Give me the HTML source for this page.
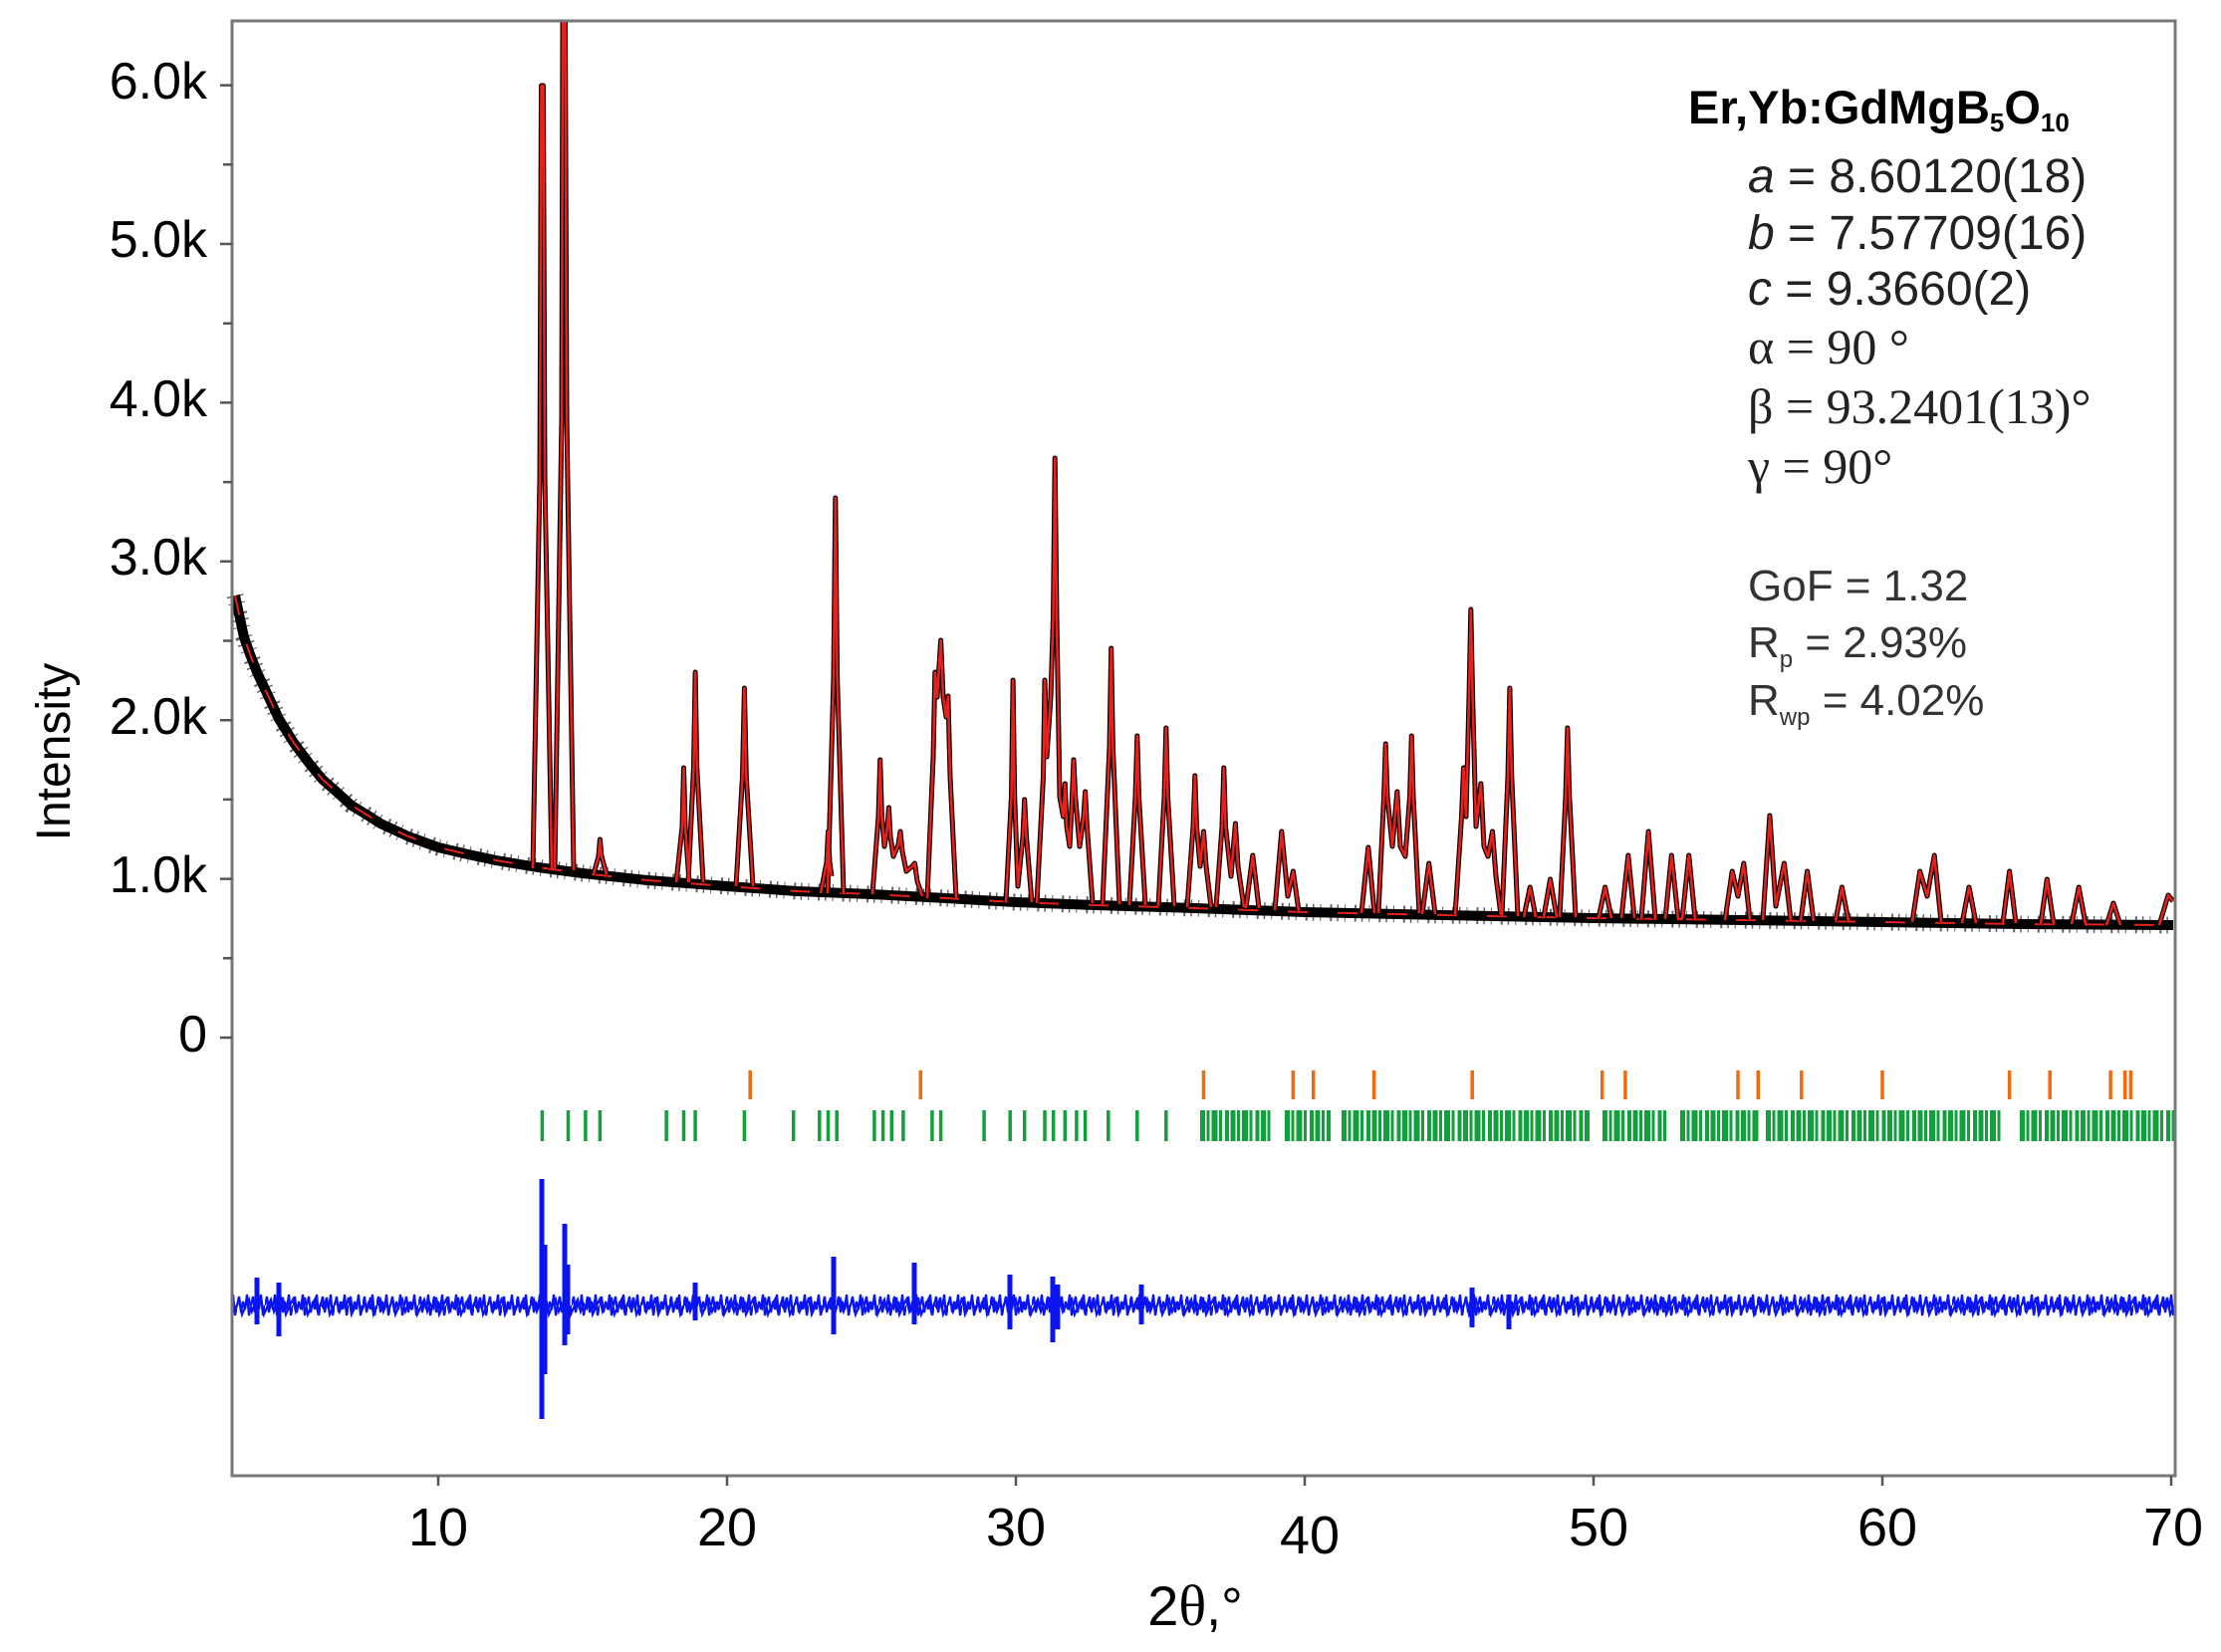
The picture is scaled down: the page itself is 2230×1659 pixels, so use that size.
<!DOCTYPE html>
<html><head><meta charset="utf-8"><style>
html,body{margin:0;padding:0;background:#fff;}
svg{display:block;}
</style></head><body>
<svg xmlns="http://www.w3.org/2000/svg" width="2230" height="1659" viewBox="0 0 2230 1659">
<defs>
<pattern id="zz" x="0" y="1296" width="14" height="30" patternUnits="userSpaceOnUse">
<path d="M0 15 L2 6 L4 22 L6 11 L8 19 L10 4 L12 25 L14 15" fill="none" stroke="#0a14f0" stroke-width="2.2"/>
</pattern>
<pattern id="zz2" x="5" y="1296" width="22" height="30" patternUnits="userSpaceOnUse">
<path d="M0 15 L3 9 L6 21 L9 13 L12 18 L15 7 L18 24 L22 15" fill="none" stroke="#0a14f0" stroke-width="2.2"/>
</pattern>
<path id="bgc" d="M236 598 L245 640 L251 657 L258 675 L266 692 L280 722 L295 746 L310 766 L324 783 L340 797 L353 809 L368 818 L382 827 L410 840 L440 851 L470 858 L498 864 L540 871 L585 877 L650 884 L730 890 L800 895 L875 898 L950 902 L1020 906 L1100 909 L1200 912 L1310 916 L1450 919 L1600 922 L1750 924 L1890 926 L2030 928 L2182 929"/>
</defs>
<rect width="2230" height="1659" fill="#fff"/>

<use href="#bgc" fill="none" stroke="#000" stroke-width="10" stroke-linejoin="round"/>
<use href="#bgc" fill="none" stroke="#000" stroke-width="17" stroke-dasharray="1.5 6 1 9 2 5" stroke-opacity="0.6"/>
<use href="#bgc" fill="none" stroke="#e8201c" stroke-width="2" stroke-dasharray="20 30"/>

<defs>
<path id="p" d="
M535 872 L542 480 L543.5 86 L545.5 86 L547 480 L554 872
M557 872 L564 420 L565 22 L567.5 22 L569 420 L576 874
M596 878 L601 860 L602.4 843 L604 860 L609 878
M679 886 L685 830 L686.5 771 L688 830 L692 886
M691 886 L696.5 770 L698.1 675 L699.7 770 L706 886
M739 890 L745.5 780 L747.4 691 L749.3 780 L756 890
M824 897 L830 866 L831.5 835 L833 866 L835 880
M831 897 L837 680 L838.8 500 L840.6 680 L847 897
M876 898 L882 820 L883.7 763 L885.4 820 L888 850 L891 830 L892.4 811 L894 840 L897 860 L902 848 L904 835 L906 855 L910 875 L916 870 L918.5 867 L921 885 L926 900
M931 902 L937 760 L938.8 675 L941 700 L944.6 643 L947 700 L950 720 L951.9 699 L954 780 L960 902
M1010 906 L1015.5 800 L1017.1 683 L1018.7 800 L1022 890 L1027 840 L1028.7 803 L1030.5 840 L1036 906
M1041 907 L1047.5 780 L1049 683 L1051 760 L1055 700 L1057.5 620 L1059.2 460 L1061 620 L1064 800 L1067.5 820 L1069.3 787 L1071 830 L1074 850 L1076.5 800 L1078 763 L1079.7 800 L1084 850 L1088 820 L1089.6 795 L1091.4 830 L1097 907
M1107 908 L1114 750 L1115.7 651 L1117.4 750 L1124 908
M1134 909 L1140 800 L1141.8 739 L1143.5 800 L1150 909
M1163 910 L1169 800 L1170.8 731 L1172.5 800 L1179 910
M1192 911 L1198 830 L1199.8 779 L1201.5 830 L1205 870 L1208.5 835 L1211 870 L1216 911
M1221 911 L1227 830 L1228.8 771 L1230.5 830 L1236 880 L1240.4 827 L1243 870 L1249 911
M1251 912 L1257.8 859 L1264 912
M1280 914 L1286.8 835 L1293 900 L1298.4 875 L1304 915
M1367 917 L1373.8 851 L1380 917
M1384 917 L1389.5 800 L1391.2 747 L1393 800 L1398 850 L1402.8 795 L1406 850 L1411 860 L1415.5 800 L1417.3 739 L1419 800 L1425 917
M1428 918 L1434.7 867 L1441 918
M1461 919 L1467.5 820 L1469.5 771 L1472 820 L1475 700 L1476.8 612 L1478.6 700 L1482 830 L1486.9 787 L1490 850 L1494 860 L1498.5 835 L1502 880 L1507 919
M1508 920 L1514 780 L1515.9 691 L1517.8 780 L1524 920
M1530 921 L1536.2 891 L1542 921
M1550 921 L1556.5 883 L1563 921
M1566 921 L1572 800 L1573.9 731 L1575.8 800 L1582 921
M1605 922 L1611.6 891 L1618 922
M1628 922 L1634.8 859 L1641 922
M1648 923 L1655.1 835 L1662 923
M1672 923 L1678.3 859 L1685 923 L1689 923 L1695.7 859 L1702 923
M1732 924 L1739.2 875 L1745 900 L1750.8 867 L1757 924
M1770 924 L1776.9 819 L1783 910 L1791.4 867 L1798 924
M1808 925 L1814.6 875 L1821 925
M1843 925 L1849.4 891 L1856 925
M1920 926 L1927.7 875 L1935 900 L1942.2 859 L1949 926
M1970 927 L1977 891 L1984 927
M2011 927 L2017.6 875 L2024 927
M2049 928 L2055.3 883 L2062 928
M2080 928 L2087.2 891 L2094 928
M2115 929 L2122 907 L2129 929
M2168 929 L2177 899 L2182 905
"/>
</defs>
<use href="#p" fill="none" stroke="#000" stroke-width="5" stroke-linejoin="round"/>
<use href="#p" fill="none" stroke="#e8201c" stroke-width="2.6" stroke-linejoin="round"/>

<!-- reflection ticks -->
<path d="M753.2 1075V1104M924.3 1075V1104M1208.5 1075V1104M1298.4 1075V1104M1318.7 1075V1104M1379.6 1075V1104M1478.2 1075V1104M1608.7 1075V1104M1631.9 1075V1104M1745 1075V1104M1765.3 1075V1104M1808.8 1075V1104M1890 1075V1104M2017.6 1075V1104M2058.2 1075V1104M2119.1 1075V1104M2133.6 1075V1104M2139.4 1075V1104" stroke="#f26a10" stroke-width="3.5"/>
<path d="M544.4 1115V1146M570.5 1115V1146M587.9 1115V1146M602.4 1115V1146M669.1 1115V1146M686.5 1115V1146M698.1 1115V1146M747.4 1115V1146M796.7 1115V1146M822.8 1115V1146M831.5 1115V1146M840.2 1115V1146M877.9 1115V1146M886.6 1115V1146M895.3 1115V1146M906.9 1115V1146M935.9 1115V1146M944.6 1115V1146M988.1 1115V1146M1014.2 1115V1146M1028.7 1115V1146M1049 1115V1146M1057.7 1115V1146M1069.3 1115V1146M1080.9 1115V1146M1089.6 1115V1146M1112.8 1115V1146M1141.8 1115V1146M1170.8 1115V1146" stroke="#12a03c" stroke-width="3.5"/>
<path d="M1205 1130.5H1277M1290 1130.5H1336M1347 1130.5H1597M1609 1130.5H1673M1687 1130.5H1766M1773 1130.5H2009M2028 1130.5H2183" stroke="#12a03c" stroke-width="31" stroke-dasharray="5 1.5 3 2 6 1.5 3 3 4 1.5"/>

<!-- difference curve -->
<rect x="234" y="1296" width="1949" height="30" fill="url(#zz)"/>
<rect x="234" y="1296" width="1949" height="30" fill="url(#zz2)"/>
<path d="M544 1184V1425M547 1250V1380M567 1229V1351M570 1270V1340M837 1262V1340M918 1268V1330M1014 1280V1335M1057 1282V1348M1062 1290V1335M280 1288V1342M258 1283V1330M698 1288V1326M1146 1290V1330M1515 1300V1335M1478 1293V1333" stroke="#0a14f0" stroke-width="5"/>

<rect x="233" y="21" width="1951" height="1461" fill="none" stroke="#777" stroke-width="3"/>
<g stroke="#555" stroke-width="2.5">
<path d="M221 1042H233M224 962.3H233M221 882.6H233M224 802.9H233M221 723.2H233M224 643.5H233M221 563.8H233M224 484.1H233M221 404.4H233M224 324.7H233M221 245H233M224 165.3H233M221 85.6H233"/>
<path d="M440 1482V1492M730 1482V1492M1020 1482V1492M1310 1482V1492M1600 1482V1492M1890 1482V1492M2180 1482V1492"/>
</g>
<g font-family="Liberation Sans, sans-serif" font-size="52" fill="#000" text-anchor="end">
<text x="208" y="99">6.0k</text>
<text x="208" y="258">5.0k</text>
<text x="208" y="418">4.0k</text>
<text x="208" y="577">3.0k</text>
<text x="208" y="737">2.0k</text>
<text x="208" y="896">1.0k</text>
<text x="208" y="1056">0</text>
</g>
<g font-family="Liberation Sans, sans-serif" font-size="54" fill="#000" text-anchor="middle">
<text x="440" y="1552">10</text>
<text x="730" y="1552">20</text>
<text x="1020" y="1552">30</text>
<text x="1315" y="1560">40</text>
<text x="1605" y="1552">50</text>
<text x="1895" y="1552">60</text>
<text x="2182" y="1552">70</text>
<text x="1200" y="1632"><tspan font-size="56">2</tspan><tspan font-family="Liberation Serif, serif" font-size="58">θ</tspan>,°</text>
</g>
<text transform="translate(70,755) rotate(-90)" font-family="Liberation Sans, sans-serif" font-size="48" text-anchor="middle">Intensity</text>
<g font-family="Liberation Sans, sans-serif" fill="#222">
<text x="1695" y="124" font-size="47" font-weight="bold" fill="#000">Er,Yb:GdMgB<tspan font-size="26" dy="8">5</tspan><tspan dy="-8">O</tspan><tspan font-size="26" dy="8">10</tspan></text>
<text x="1755" y="193" font-size="48"><tspan font-style="italic">a</tspan> = 8.60120(18)</text>
<text x="1755" y="250" font-size="48"><tspan font-style="italic">b</tspan> = 7.57709(16)</text>
<text x="1755" y="306" font-size="48"><tspan font-style="italic">c</tspan> = 9.3660(2)</text>
<text x="1755" y="365" font-size="50" font-family="Liberation Serif, serif">α = 90 °</text>
<text x="1755" y="425" font-size="50" font-family="Liberation Serif, serif">β = 93.2401(13)°</text>
<text x="1755" y="485" font-size="50" font-family="Liberation Serif, serif">γ = 90°</text>
<text x="1755" y="603" font-size="44" fill="#333">GoF = 1.32</text>
<text x="1755" y="660" font-size="44" fill="#333">R<tspan font-size="24" dy="10">p</tspan><tspan dy="-10"> = 2.93%</tspan></text>
<text x="1755" y="718" font-size="44" fill="#333">R<tspan font-size="24" dy="10">wp</tspan><tspan dy="-10"> = 4.02%</tspan></text>
</g>
</svg>
</body></html>
